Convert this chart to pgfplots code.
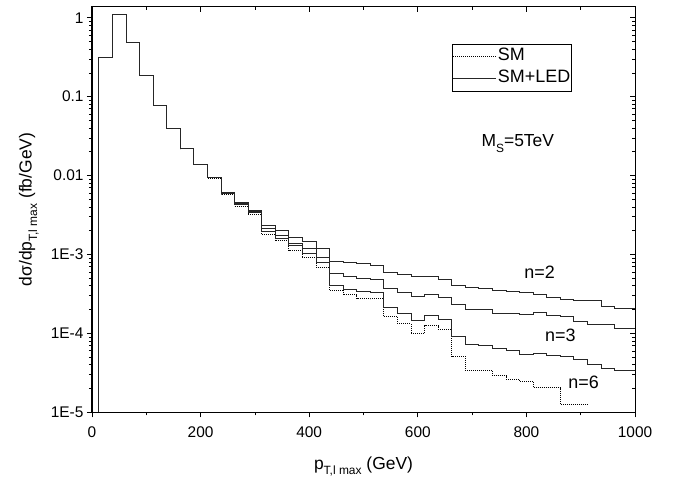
\documentclass[border=0pt]{standalone}
\usepackage{pgfplots}
\usepackage{pgfplotstable}
\pgfplotsset{compat=1.18}
\usepackage{fontspec}
\setmainfont{Liberation Sans}

% SM+LED histograms (left bin edges, value), n=2, n=3, n=6
\pgfplotstableread{
x n2 n3 n6
12.5 1e-5 1e-5 1e-5
12.5 0.316 0.316 0.316
37.5 1.11 1.11 1.11
62.5 0.483 0.483 0.483
87.5 0.188 0.188 0.188
112.5 0.0785 0.0785 0.0785
137.5 0.0398 0.0398 0.0398
162.5 0.0218 0.0218 0.0218
187.5 0.0138 0.0138 0.0138
212.5 0.0096 0.0095 0.0094
237.5 0.0062 0.0061 0.0060
262.5 0.0046 0.0045 0.0043
287.5 0.0036 0.0035 0.0034
312.5 0.00233 0.00211 0.00195
337.5 0.0020 0.00173 0.00162
362.5 0.00164 0.00139 0.00129
387.5 0.00146 0.0012 0.00102
412.5 0.0012 0.00093 0.00079
437.5 0.00082 0.00058 0.00041
462.5 0.000785 0.00052 0.000357
487.5 0.00076 0.0005 0.00034
512.5 0.00073 0.00049 0.00033
537.5 0.00059 0.00037 0.000211
562.5 0.00056 0.000334 0.000181
587.5 0.00052 0.00029 0.000146
612.5 0.00052 0.000316 0.000168
637.5 0.00049 0.000283 0.000152
662.5 0.00041 0.000231 0.000091
687.5 0.00038 0.0002 0.000072
712.5 0.00037 0.0002 0.000071
737.5 0.000355 0.000179 0.000064
762.5 0.00034 0.00018 0.000060
787.5 0.000327 0.000174 0.000054
812.5 0.000316 0.000185 0.000056
837.5 0.000286 0.000168 0.0000525
862.5 0.000272 0.000162 0.000051
887.5 0.00026 0.000141 0.0000467
912.5 0.00026 0.000129 0.000041
937.5 0.00022 0.000129 0.0000355
962.5 0.000207 0.000117 0.000034
1000 0.000207 0.000117 0.000034
}\ledtable

% SM histogram
\pgfplotstableread{
x sm
12.5 1e-5
12.5 0.316
37.5 1.11
62.5 0.483
87.5 0.188
112.5 0.0785
137.5 0.0398
162.5 0.0218
187.5 0.0138
212.5 0.0092
237.5 0.0057
262.5 0.0041
287.5 0.0032
312.5 0.00179
337.5 0.00149
362.5 0.00112
387.5 0.00093
412.5 0.00069
437.5 0.00035
462.5 0.00031
487.5 0.000277
512.5 0.000275
537.5 0.000162
562.5 0.000133
587.5 0.0001
612.5 0.000125
637.5 0.000112
662.5 0.000051
687.5 0.000034
712.5 0.000034
737.5 0.000029
762.5 0.0000264
787.5 0.0000246
812.5 0.0000204
837.5 0.0000204
862.5 0.0000125
887.5 0.0000125
912.5 0.0000125
}\smtable

\newcommand{\sub}[1]{\raisebox{-5.5bp}{\fontsize{12}{12}\selectfont #1}}

\begin{document}
\begin{tikzpicture}
\begin{axis}[name=ax,
  scale only axis, width=543bp, height=405.6bp,
  xmin=0, xmax=1000, ymode=log, ymin=1e-5, ymax=1.38,
  axis line style={line width=1bp},
  tick style={black, line width=0.8bp},
  major tick length=5bp, minor tick length=3bp,
  xtick={0,200,400,600,800,1000},
  minor xtick={100,300,500,700,900},
  ytick={1e-5,1e-4,1e-3,0.01,0.1,1},
  minor ytick={2e-5,3e-5,4e-5,5e-5,6e-5,7e-5,8e-5,9e-5,
               2e-4,3e-4,4e-4,5e-4,6e-4,7e-4,8e-4,9e-4,
               2e-3,3e-3,4e-3,5e-3,6e-3,7e-3,8e-3,9e-3,
               0.02,0.03,0.04,0.05,0.06,0.07,0.08,0.09,
               0.2,0.3,0.4,0.5,0.6,0.7,0.8,0.9},
  tick align=outside, xtick pos=bottom, ytick pos=left,
  yticklabels={1E-5,1E-4,1E-3,0.01,0.1,1},
  /pgf/number format/assume math mode=true,
  /pgf/number format/1000 sep={},
  ticklabel style={font=\fontsize{15.5}{15.5}\selectfont},
  xticklabel style={yshift=-6bp},
  xlabel={p\sub{T,l max} (GeV)},
  ylabel={dσ/dp\sub{T,l max} (fb/GeV)},
  label style={font=\fontsize{17.5}{17.5}\selectfont},
  xlabel style={at={(axis description cs:0.5,-0.1405)}, anchor=base},
  ylabel style={at={(axis description cs:-0.111,0.5)}, anchor=base},
  legend style={at={(rel axis cs:0.6636,0.909)}, anchor=north west,
    draw=black, line width=0.6bp, inner xsep=0pt, inner ysep=1.5bp,
    font=\fontsize{18}{18}\selectfont, row sep=0bp,
    nodes={inner xsep=1.5bp, inner ysep=3bp, text height=12.5bp, text depth=3.5bp}},
  legend cell align=left,
  legend image code/.code={\draw[#1] (0bp,0bp) -- (43bp,0bp);},
]
\addplot[const plot mark left, black, line width=0.8bp, dash pattern=on 1bp off 1bp] table[x=x, y=sm] {\smtable};
\addlegendentry{SM}
\addplot[const plot mark left, black!85, line width=0.85bp] table[x=x, y=n2] {\ledtable};
\addlegendentry{SM+LED}
\addplot[const plot mark left, black!85, line width=0.85bp, forget plot] table[x=x, y=n3] {\ledtable};
\addplot[const plot mark left, black!85, line width=0.85bp, forget plot] table[x=x, y=n6] {\ledtable};

\node[anchor=base west, font=\fontsize{17.5}{17.5}\selectfont] at (axis cs:711,0.0233) {M\sub{S}=5TeV};
\node[anchor=base west, font=\fontsize{18}{18}\selectfont] at (axis cs:790,4.97e-4) {n=2};
\node[anchor=base west, font=\fontsize{18}{18}\selectfont] at (axis cs:828,7.9e-5) {n=3};
\node[anchor=base west, font=\fontsize{18}{18}\selectfont] at (axis cs:871,2.0e-5) {n=6};
\end{axis}
\begin{axis}[
  scale only axis, width=543bp, height=405.6bp,
  xmin=0, xmax=1000, ymode=log, ymin=1e-5, ymax=1.38,
  axis line style={line width=1bp},
  tick style={black, line width=0.8bp},
  major tick length=5bp, minor tick length=3bp,
  xtick={0,200,400,600,800,1000},
  minor xtick={100,300,500,700,900},
  ytick={1e-5,1e-4,1e-3,0.01,0.1,1},
  minor ytick={2e-5,3e-5,4e-5,5e-5,6e-5,7e-5,8e-5,9e-5,
               2e-4,3e-4,4e-4,5e-4,6e-4,7e-4,8e-4,9e-4,
               2e-3,3e-3,4e-3,5e-3,6e-3,7e-3,8e-3,9e-3,
               0.02,0.03,0.04,0.05,0.06,0.07,0.08,0.09,
               0.2,0.3,0.4,0.5,0.6,0.7,0.8,0.9},
  tick align=inside, xtick pos=top, ytick pos=right,
  xticklabels={}, yticklabels={},
]
\addplot[draw=none, forget plot] coordinates {(500,0.01)};
\end{axis}
\pgfresetboundingbox
\path ([shift={(-92bp,-66.7bp)}]ax.south west) rectangle ([shift={(38bp,6.7bp)}]ax.north east);
\end{tikzpicture}
\end{document}
